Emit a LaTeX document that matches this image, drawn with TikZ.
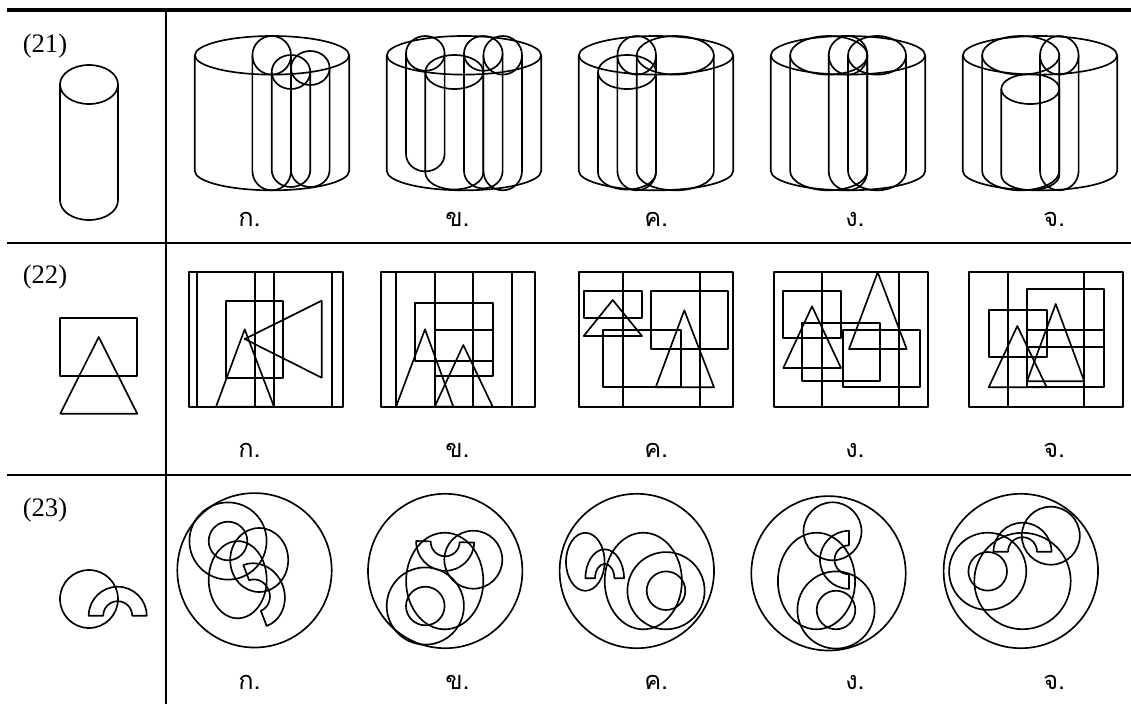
\documentclass[tikz,border=0pt]{standalone}
\usepackage{fontspec}
\setmainfont{Liberation Serif}
\newfontfamily\thaifont[Script=Thai]{Loma}
\tikzset{
  lineart/.style={line width=1.25pt, line join=round},
  heavyrule/.style={line width=3pt},
  thinrule/.style={line width=1.5pt},
  rowlabel/.style={anchor=base west, inner sep=0pt, font=\fontsize{20}{24}\selectfont},
  choice/.style={anchor=base west, inner sep=0pt, font=\thaifont\fontsize{19}{22}\selectfont},
}
% cylinder: x, top y, rx, ry, bottom y
\newcommand{\cyl}[5]{
  \draw[lineart] (#1,#2) ellipse (#3 and #4);
  \draw[lineart] (#1-#3,#2) -- (#1-#3,#5) arc (180:0:#3 and #4) -- (#1+#3,#2);
}
% open box: x1, y1, x2, y2
\newcommand{\bx}[4]{\draw[lineart] (#1,#2) rectangle (#3,#4);}
% triangle: apex x, apex y, base x1, base x2, base y
\newcommand{\tri}[5]{\draw[lineart] (#1,#2) -- (#3,#5) -- (#4,#5) -- cycle;}
\newcommand{\disc}[4]{\draw[lineart] (#1,#2) ellipse (#3 and #4);}
% half ring: x, y, rotation, rx, ry
\newcommand{\arch}[5]{
  \draw[lineart, shift={(#1,#2)}, rotate=#3] (-#4,0) arc (180:360:#4 and #5)
    -- (#4/2,0) arc (360:180:#4/2 and #5/2) -- cycle;
}
\begin{document}
\begin{tikzpicture}[x=.75pt, y=.75pt, yscale=-1]
\useasboundingbox (0,0) rectangle (1131,704);
% table rules
\draw[heavyrule] (7,10) -- (1131,10);
\draw[thinrule] (7,243) -- (1131,243);
\draw[thinrule] (7,475) -- (1131,475);
\draw[thinrule] (166,10) -- (166,704);

\node (q21)[rowlabel] at (22.5,52) {(21)};
\node (q22)[rowlabel] at (22.5,283) {(22)};
\node (q23)[rowlabel] at (22.5,516) {(23)};

% row 21
\cyl{89}{84.5}{29}{19.5}{200.5}
\cyl{272}{55.3}{77.2}{19.3}{171}
\cyl{271.7}{55.3}{19.3}{19.3}{171}
\cyl{291}{72}{19.3}{17}{170}
\cyl{310.3}{68}{19.3}{17}{170}
\node (a1)[choice] at (238,226) {ก.};

\cyl{464}{55.3}{77.2}{19.3}{171}
\cyl{425.3}{53.4}{19.3}{17.4}{154}
\cyl{454.3}{72}{29}{17}{172.5}
\cyl{483.3}{53.4}{19.3}{17.4}{171}
\cyl{502.7}{55.3}{19.3}{19.3}{171}
\node (b1)[choice] at (445,226) {ข.};

\cyl{656}{55.3}{77.2}{19.3}{171}
\cyl{627}{72}{29}{17}{172.5}
\cyl{636.7}{55.3}{19.3}{19.3}{171}
\cyl{675.3}{55.3}{38.6}{19.3}{171}
\node (c1)[choice] at (644,226) {ค.};

\cyl{848}{55.3}{77.2}{19.3}{171}
\cyl{828.7}{55.3}{38.6}{19.3}{171}
\cyl{848}{55.3}{19.3}{19.3}{171}
\cyl{877}{55.3}{29}{19.3}{171}
\node (d1)[choice] at (845,226) {ง.};

\cyl{1040}{55.3}{77.2}{19.3}{171}
\cyl{1020.7}{55.3}{38.6}{19.3}{171}
\cyl{1059.3}{55.3}{19.3}{19.3}{171}
\cyl{1030.3}{89}{29}{15}{175}
\node (e1)[choice] at (1043,226) {จ.};

% row 22
\bx{60.3}{317.7}{137.3}{375.7}
\tri{98.7}{337}{60.3}{137.3}{413.7}

\bx{188.7}{272.3}{342.7}{406.7}
\bx{197}{272.3}{331.7}{406.7}
\bx{254.7}{272.3}{274}{406.7}
\bx{225.7}{300.7}{283.3}{377.7}
\tri{244.7}{329.3}{216}{274}{406.7}
\draw[lineart] (244.7,339) -- (321.7,300.7) -- (321.7,377.7) -- cycle;
\node (a2)[choice] at (238,457) {ก.};

\bx{380.7}{272.3}{534.7}{406.7}
\bx{396}{272.3}{511.7}{406.7}
\bx{434.7}{272.3}{473.3}{406.7}
\bx{415.3}{303.3}{492.7}{361}
\bx{434.7}{329.7}{492.7}{376}
\tri{425}{329.3}{396}{453.3}{406.7}
\tri{463.3}{345}{434.7}{492.7}{406.7}
\node (b2)[choice] at (445,457) {ข.};

\bx{578.7}{272.3}{733.3}{406.7}
\bx{622.7}{272.3}{699.7}{406.7}
\bx{583.7}{291}{642}{318.3}
\tri{612.7}{300}{583.7}{642}{336}
\bx{651}{291}{728.3}{349}
\bx{603.3}{329.7}{680.7}{387.3}
\tri{684.3}{310.3}{655.7}{714}{387.3}
\node (c2)[choice] at (644,457) {ค.};

\bx{773.7}{272.3}{928}{406.7}
\bx{821.7}{272.3}{899}{406.7}
\bx{783.3}{291}{841}{337.7}
\tri{812}{306.3}{783.3}{841}{368}
\bx{802.3}{323.3}{879.7}{381.3}
\bx{842.7}{329.7}{920.3}{387.3}
\tri{877.7}{272.3}{849}{906.7}{349}
\node (d2)[choice] at (845,457) {ง.};

\bx{969}{272.3}{1123.3}{406.7}
\bx{1007.7}{272.3}{1084.3}{406.7}
\bx{988.7}{310.3}{1046.7}{356.7}
\tri{1017.3}{326}{988.7}{1046.7}{387.3}
\bx{1027}{289.3}{1104}{347}
\bx{1027}{329.7}{1104}{387.3}
\tri{1055.7}{304}{1027}{1084.3}{381.3}
\node (e2)[choice] at (1043,457) {จ.};

% row 23
\disc{89}{599}{29}{29}
\arch{117.7}{615.7}{0}{29}{29}

\disc{254.5}{570.3}{77.2}{77.2}
\disc{228}{541}{38.6}{38.6}
\disc{228}{541}{19.3}{19.3}
\disc{259.2}{560}{29}{32}
\disc{237.7}{579.7}{29}{38.6}
\arch{255}{595.5}{69}{32.6}{29.5}
\node (a3)[choice] at (238,689) {ก.};

\disc{445.2}{571}{77.2}{77.2}
\disc{444.7}{581}{38.6}{48.3}
\disc{425.3}{606}{38.6}{38.6}
\disc{425.3}{606}{19.3}{19.3}
\disc{473.3}{559.7}{29}{29}
\arch{445.2}{541.8}{181.6}{29}{29}
\node (b3)[choice] at (445,689) {ข.};

\disc{636.8}{571}{77.2}{77.2}
\disc{585.3}{561.8}{19.3}{29}
\arch{604.7}{578.3}{0}{19.3}{29}
\disc{643.3}{581}{38.6}{48.3}
\disc{666}{590.7}{38.6}{38.6}
\disc{666}{590.7}{19.3}{19.3}
\node (c3)[choice] at (644,689) {ค.};

\disc{828.5}{573.3}{77.2}{77.2}
\disc{832.5}{531.3}{29}{29}
\disc{816.5}{581}{38.6}{48.3}
\disc{836}{610}{38.6}{38.6}
\disc{836}{610}{19.3}{19.3}
\arch{849}{559.8}{-90}{29}{29}
\node (d3)[choice] at (845,689) {ง.};

\disc{1020.8}{571}{77.2}{77.2}
\disc{987.7}{571.3}{38.6}{38.6}
\disc{987.7}{571.3}{19.3}{19.3}
\disc{1022.5}{581}{48.2}{48.2}
\disc{1050.8}{535.7}{29}{29}
\arch{1022.5}{551.7}{0}{29}{29}
\node (e3)[choice] at (1043,689) {จ.};
\end{tikzpicture}
\end{document}
